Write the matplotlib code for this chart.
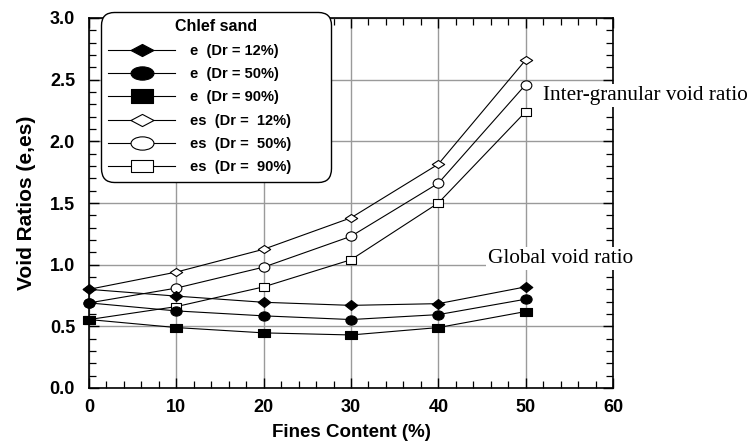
import numpy as np
import matplotlib
matplotlib.use("Agg")
import matplotlib.pyplot as plt
from matplotlib.path import Path
from matplotlib.lines import Line2D

# Fines content (%) and void ratios for Chlef sand
fines = [0, 10, 20, 30, 40, 50]
e_dr12 = [0.80, 0.745, 0.695, 0.67, 0.684, 0.82]
e_dr50 = [0.69, 0.625, 0.585, 0.555, 0.595, 0.72]
e_dr90 = [0.555, 0.49, 0.447, 0.43, 0.49, 0.62]
es_dr12 = [0.80, 0.94, 1.125, 1.38, 1.815, 2.66]
es_dr50 = [0.69, 0.81, 0.98, 1.23, 1.66, 2.46]
es_dr90 = [0.555, 0.66, 0.82, 1.04, 1.50, 2.24]

labels = ["e  (Dr = 12%)", "e  (Dr = 50%)", "e  (Dr = 90%)",
          "es  (Dr =  12%)", "es  (Dr =  50%)", "es  (Dr =  90%)"]


def diamond(r):
    return Path([(-1, 0), (0, r), (1, 0), (0, -r), (-1, 0)],
                [Path.MOVETO, Path.LINETO, Path.LINETO, Path.LINETO, Path.CLOSEPOLY])


def ellipse(r):
    c = Path.unit_circle()
    return Path(c.vertices * np.array([1.0, r]), c.codes)


def rect(r):
    return Path([(-1, -r), (1, -r), (1, r), (-1, r), (-1, -r)],
                [Path.MOVETO, Path.LINETO, Path.LINETO, Path.LINETO, Path.CLOSEPOLY])


fig = plt.figure(figsize=(7.51, 4.43), dpi=100)
ax = fig.add_axes([89 / 751, 55 / 443, 524 / 751, 370 / 443])

series = [
    (es_dr12, diamond(0.65), 8.9, "white"),
    (es_dr50, ellipse(0.87), 7.7, "white"),
    (es_dr90, rect(0.73), 7.2, "white"),
    (e_dr12, diamond(0.79), 9.1, "black"),
    (e_dr50, ellipse(0.82), 8.1, "black"),
    (e_dr90, rect(0.73), 8.1, "black"),
]
for vals, mk, ms, fc in series:
    ax.plot(fines, vals, color="black", lw=0.8, marker=mk, ms=ms,
            mfc=fc, mec="black", mew=0.8, clip_on=False, zorder=3)

ax.set_xlim(0, 60)
ax.set_ylim(0, 3.0)
ax.set_xticks(np.arange(0, 61, 10))
ax.set_yticks(np.arange(0, 3.01, 0.5))
ax.set_xticks(np.arange(0, 61, 2), minor=True)
ax.set_yticks(np.arange(0, 3.01, 0.1), minor=True)
ax.set_yticklabels([f"{v:.1f}" for v in np.arange(0, 3.01, 0.5)])
ax.grid(True, which="major", color="#9a9a9a", lw=1.0, zorder=0)
ax.set_axisbelow(True)

tick_font = dict(family="Liberation Sans", weight="bold", size=13)
ax.tick_params(which="both", direction="in", top=True, right=True, color="black")
ax.tick_params(which="major", length=7, width=1.0)
ax.tick_params(which="minor", length=5, width=0.9)
ax.tick_params(axis="y", which="major", pad=10)
ax.tick_params(axis="x", which="major", pad=8)
for lab in ax.get_xticklabels() + ax.get_yticklabels():
    lab.set_fontproperties(tick_font)
for sp in ax.spines.values():
    sp.set_linewidth(1.2)
    sp.set_color("black")

ax.set_xlabel("Fines Content (%)", family="Liberation Sans", weight="bold",
              size=13.5, labelpad=6)
ax.set_ylabel("Void Ratios (e,es)", family="Liberation Sans", weight="bold",
              size=15, labelpad=10)

txt_font = dict(family="Liberation Serif", size=15.3)
box = dict(facecolor="white", edgecolor="none", pad=1.5)
ax.text(52.0, 2.37, "Inter-granular void ratio", va="center", ha="left",
        bbox=box, clip_on=False, zorder=5, **txt_font)
ax.text(45.7, 1.05, "Global void ratio", va="center", ha="left",
        bbox=box, clip_on=False, zorder=5, **txt_font)

# Legend entries use wider markers than the data points
leg_marks = [
    (diamond(0.53), "black"), (ellipse(0.58), "black"), (rect(0.62), "black"),
    (diamond(0.53), "white"), (ellipse(0.58), "white"), (rect(0.56), "white"),
]
handles = [Line2D([], [], color="black", lw=0.8, marker=mk, ms=16.5, mfc=fc,
                  mec="black", mew=0.8) for mk, fc in leg_marks]
leg = ax.legend(handles, labels, title="Chlef sand", loc="upper left",
                bbox_to_anchor=(101 / 751, 1 - 12 / 443, 230 / 751, 0.0),
                bbox_transform=fig.transFigure, mode="expand", borderaxespad=0,
                prop=dict(family="Liberation Sans", weight="bold", size=10.5),
                title_fontproperties=dict(family="Liberation Sans", weight="bold", size=11.5),
                handlelength=4.6, handletextpad=1.0, labelspacing=0.64,
                borderpad=0.5, fancybox=True, framealpha=1, edgecolor="black")
leg.get_frame().set_linewidth(1.0)
leg.get_frame().set_boxstyle("round,pad=0,rounding_size=0.9")
leg.set_zorder(6)

fig.savefig("out.png", dpi=100)
